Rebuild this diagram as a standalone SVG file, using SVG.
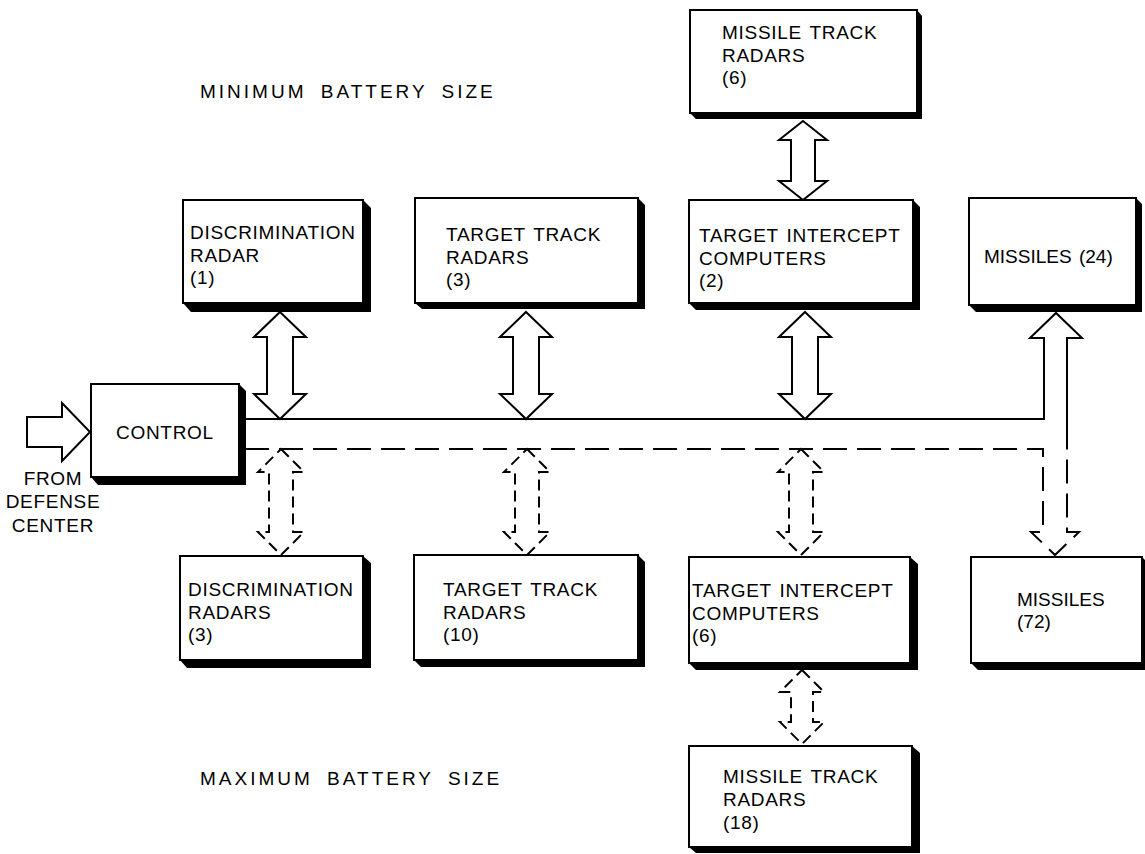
<svg xmlns="http://www.w3.org/2000/svg" width="1145" height="854" viewBox="0 0 1145 854">
<style>
.box{fill:#fff;stroke:#000;stroke-width:2}
.sh{fill:#000}
.t{font-family:"Liberation Sans",Arial,sans-serif;font-size:19px;fill:#000;letter-spacing:0.7px;word-spacing:2px}
.m{letter-spacing:0px}
.h{font-family:"Liberation Sans",Arial,sans-serif;font-size:19px;fill:#000;letter-spacing:3px;word-spacing:6px}
.s{fill:#fff;stroke:#000;stroke-width:2;stroke-linejoin:miter}
.d{fill:none;stroke:#000;stroke-width:2;stroke-dasharray:11 6}
.bus{fill:none;stroke:#000;stroke-width:2}
.dbus{fill:none;stroke:#000;stroke-width:2;stroke-dasharray:24 10}
</style>
<rect width="1145" height="854" fill="#fff"/>
<text class="h" x="200" y="98">MINIMUM BATTERY SIZE</text>
<text class="h" x="200" y="785">MAXIMUM BATTERY SIZE</text>

<g id="connectors">
<path class="bus" d="M245,419 L1044,419 L1044,338 L1030,338 L1056,313 L1082,338 L1067,338 L1067,432"/>
<path class="dbus" d="M245,449 L1043,449 L1043,532 L1031,532 L1055,555 L1079,532 L1067,532 L1067,432"/>
<polygon class="s" points="280,312 306,337 293,337 293,394 306,394 280,419 254,394 267,394 267,337 254,337"/>
<polygon class="s" points="526,312 552,337 539,337 539,394 552,394 526,419 500,394 513,394 513,337 500,337"/>
<polygon class="s" points="805,312 831,337 818,337 818,394 831,394 805,419 779,394 792,394 792,337 779,337"/>
<polygon class="s" points="803,121 827,140 815,140 815,181 827,181 803,200 779,181 791,181 791,140 779,140"/>
<polygon class="d" points="281,449 304,472 293,472 293,532 304,532 281,555 258,532 269,532 269,472 258,472"/>
<polygon class="d" points="527,449 550,472 539,472 539,532 550,532 527,555 504,532 515,532 515,472 504,472"/>
<polygon class="d" points="801,449 824,472 813,472 813,532 824,532 801,555 778,532 789,532 789,472 778,472"/>
<polygon class="d" points="802,670 824,692 813,692 813,722 824,722 802,744 780,722 791,722 791,692 780,692"/>
<polygon class="s" points="27,417 62,417 62,403 90,432 62,461 62,447 27,447"/>
</g>

<text class="t" text-anchor="middle"><tspan x="53" y="485">FROM</tspan><tspan x="53" y="508">DEFENSE</tspan><tspan x="53" y="532">CENTER</tspan></text>

<g id="control">
<polygon class="sh" points="239,384 246,391 246,485 98,485 91,477 239,477"/>
<rect class="box" x="91" y="384" width="148" height="93"/>
<text class="t" x="116" y="439">CONTROL</text>
</g>

<g id="disc-radar-1">
<polygon class="sh" points="363,200 371,208 371,312 191,312 183,303 363,303"/>
<rect class="box" x="183" y="200" width="180" height="103"/>
<text class="t"><tspan x="190" y="239">DISCRIMINATION</tspan><tspan x="190" y="262">RADAR</tspan><tspan x="190" y="284">(1)</tspan></text>
</g>

<g id="ttr-3">
<polygon class="sh" points="638,198 645,205 645,309 422,309 415,303 638,303"/>
<rect class="box" x="415" y="198" width="223" height="105"/>
<text class="t"><tspan x="446" y="241">TARGET TRACK</tspan><tspan x="446" y="264">RADARS</tspan><tspan x="446" y="286">(3)</tspan></text>
</g>

<g id="mtr-6">
<polygon class="sh" points="917,10 922,16 922,119 696,119 690,113 917,113"/>
<rect class="box" x="690" y="10" width="227" height="103"/>
<text class="t"><tspan x="722" y="39">MISSILE TRACK</tspan><tspan x="722" y="62">RADARS</tspan><tspan x="722" y="84">(6)</tspan></text>
</g>

<g id="tic-2">
<polygon class="sh" points="913,200 920,207 920,310 696,310 689,303 913,303"/>
<rect class="box" x="689" y="200" width="224" height="103"/>
<text class="t"><tspan x="699" y="242">TARGET INTERCEPT</tspan><tspan x="699" y="265">COMPUTERS</tspan><tspan x="699" y="287">(2)</tspan></text>
</g>

<g id="missiles-24">
<polygon class="sh" points="1136,198 1142,204 1142,312 976,312 969,305 1136,305"/>
<rect class="box" x="969" y="198" width="167" height="107"/>
<text class="t m" x="984" y="263">MISSILES (24)</text>
</g>

<g id="disc-radars-3">
<polygon class="sh" points="363,556 371,563 371,668 187,668 180,660 363,660"/>
<rect class="box" x="180" y="556" width="183" height="104"/>
<text class="t"><tspan x="188" y="596">DISCRIMINATION</tspan><tspan x="188" y="619">RADARS</tspan><tspan x="188" y="641">(3)</tspan></text>
</g>

<g id="ttr-10">
<polygon class="sh" points="638,555 645,562 645,667 421,667 414,660 638,660"/>
<rect class="box" x="414" y="555" width="224" height="105"/>
<text class="t"><tspan x="443" y="596">TARGET TRACK</tspan><tspan x="443" y="619">RADARS</tspan><tspan x="443" y="641">(10)</tspan></text>
</g>

<g id="tic-6">
<polygon class="sh" points="910,557 918,564 918,670 696,670 689,663 910,663"/>
<rect class="box" x="689" y="557" width="221" height="106"/>
<text class="t"><tspan x="692" y="597">TARGET INTERCEPT</tspan><tspan x="692" y="620">COMPUTERS</tspan><tspan x="692" y="642">(6)</tspan></text>
</g>

<g id="missiles-72">
<polygon class="sh" points="1142,557 1145,560 1145,670 978,670 971,663 1142,663"/>
<rect class="box" x="971" y="557" width="171" height="106"/>
<text class="t m"><tspan x="1017" y="606">MISSILES</tspan><tspan x="1017" y="628">(72)</tspan></text>
</g>

<g id="mtr-18">
<polygon class="sh" points="912,746 920,753 920,853 696,853 689,847 912,847"/>
<rect class="box" x="689" y="746" width="223" height="101"/>
<text class="t"><tspan x="723" y="783">MISSILE TRACK</tspan><tspan x="723" y="806">RADARS</tspan><tspan x="723" y="829">(18)</tspan></text>
</g>
</svg>
